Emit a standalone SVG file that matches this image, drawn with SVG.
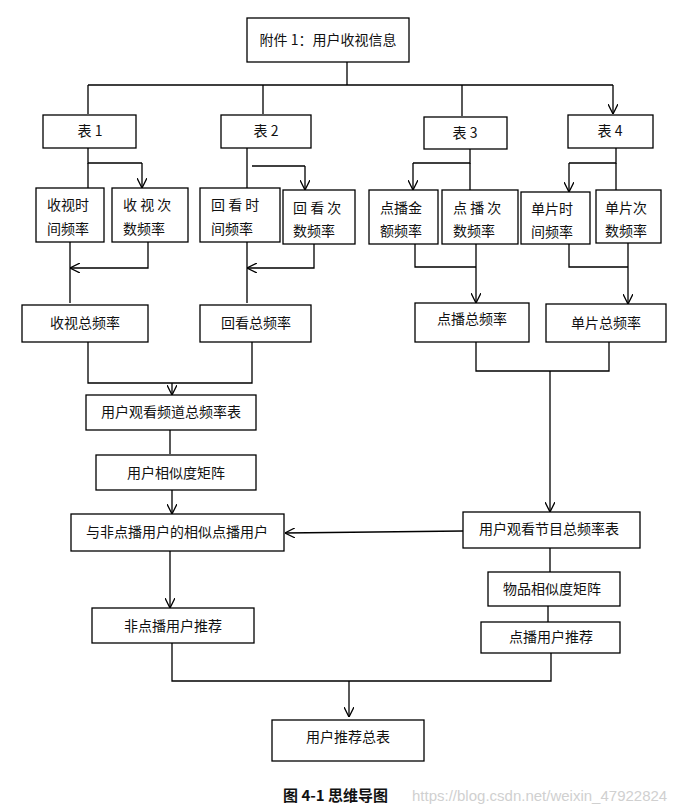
<svg xmlns="http://www.w3.org/2000/svg" width="690" height="807" viewBox="0 0 690 807">
<defs>
<marker id="a" viewBox="0 0 10 10" refX="10" refY="5" markerWidth="10" markerHeight="10" markerUnits="userSpaceOnUse" orient="auto"><path d="M0,0 L10,5 L0,10" fill="none" stroke="#000" stroke-width="1.3"/></marker>
<style>
rect{fill:#fff;stroke:#000;stroke-width:1.3}
text{font-family:"Noto Sans CJK SC","Liberation Sans",sans-serif;font-size:14px;fill:#111}
.c{text-anchor:middle}
.l{fill:none;stroke:#000;stroke-width:1.3}
.ar{fill:none;stroke:#000;stroke-width:1.3;marker-end:url(#a)}
</style>
</defs>
<rect x="0" y="0" width="690" height="807" style="fill:#fff;stroke:none"/>
<g id="connectors">
<path class="l" d="M347,62V85M88,85H613"/>
<path class="ar" d="M88,85V114M263,85V114M462,85V116M613,85V114"/>
<path class="l" d="M88,148V163H142"/><path class="ar" d="M88,163V188M142,163V188"/>
<path class="l" d="M252,166H305"/><path class="ar" d="M247,148V188M305,166V190"/>
<path class="l" d="M470,149V163H413"/><path class="ar" d="M470,163V190M413,163V190"/>
<path class="l" d="M616,148V163H569"/><path class="ar" d="M616,163V190M569,163V192"/>
<path class="ar" d="M70,242V303M148,242V268H70"/>
<path class="ar" d="M247,242V303M314,244V268H247"/>
<path class="ar" d="M415,244V267H476M476,244V303"/>
<path class="ar" d="M569,244V267H628M628,243V304"/>
<path class="l" d="M88,342V383H252V342"/><path class="ar" d="M172,383V395"/>
<path class="ar" d="M170,430V454M172,490V514"/>
<path class="l" d="M476,342V371H609V342"/><path class="ar" d="M550,371V512"/>
<path class="ar" d="M463,531L285,533"/>
<path class="ar" d="M550,548V572M548,606V622M170,551V608"/>
<path class="l" d="M172,643V681H551V653"/><path class="ar" d="M349,681V717"/>
</g>
<g id="n0"><rect x="247" y="18" width="162" height="44"/><text class="c" x="328" y="45">附件 1：用户收视信息</text></g>
<g id="t1"><rect x="43" y="115" width="93" height="33"/><text class="c" x="90" y="136">表 1</text></g>
<g id="t2"><rect x="221" y="115" width="90" height="33"/><text class="c" x="266" y="136">表 2</text></g>
<g id="t3"><rect x="424" y="117" width="83" height="32"/><text class="c" x="465" y="138">表 3</text></g>
<g id="t4"><rect x="568" y="115" width="85" height="33"/><text class="c" x="610" y="136">表 4</text></g>
<g id="s1"><rect x="36" y="188" width="68" height="54"/><text x="47" y="210">收视时</text><text x="47" y="234">间频率</text></g>
<g id="s2"><rect x="112" y="188" width="76" height="54"/><text x="123" y="210">收 视 次</text><text x="123" y="234">数频率</text></g>
<g id="s3"><rect x="200" y="188" width="80" height="54"/><text x="211" y="210">回 看 时</text><text x="211" y="234">间频率</text></g>
<g id="s4"><rect x="283" y="190" width="72" height="54"/><text x="293" y="213">回 看 次</text><text x="293" y="236">数频率</text></g>
<g id="s5"><rect x="369" y="190" width="69" height="54"/><text x="380" y="213">点播金</text><text x="380" y="236">额频率</text></g>
<g id="s6"><rect x="442" y="190" width="76" height="54"/><text x="453" y="213">点 播 次</text><text x="453" y="236">数频率</text></g>
<g id="s7"><rect x="521" y="192" width="69" height="52"/><text x="531" y="214">单片时</text><text x="531" y="237">间频率</text></g>
<g id="s8"><rect x="596" y="190" width="65" height="53"/><text x="605" y="213">单片次</text><text x="605" y="236">数频率</text></g>
<g id="m1"><rect x="22" y="305" width="126" height="37"/><text class="c" x="85" y="328">收视总频率</text></g>
<g id="m2"><rect x="200" y="305" width="111" height="37"/><text class="c" x="256" y="328">回看总频率</text></g>
<g id="m3"><rect x="415" y="303" width="114" height="39"/><text class="c" x="472" y="324">点播总频率</text></g>
<g id="m4"><rect x="546" y="304" width="120" height="38"/><text class="c" x="606" y="328">单片总频率</text></g>
<g id="p1"><rect x="86" y="395" width="170" height="35"/><text class="c" x="171" y="417">用户观看频道总频率表</text></g>
<g id="p2"><rect x="96" y="455" width="160" height="35"/><text class="c" x="176" y="478">用户相似度矩阵</text></g>
<g id="p3"><rect x="71" y="514" width="213" height="37"/><text class="c" x="177" y="537">与非点播用户的相似点播用户</text></g>
<g id="p4"><rect x="92" y="608" width="162" height="35"/><text class="c" x="173" y="631">非点播用户推荐</text></g>
<g id="q1"><rect x="463" y="512" width="177" height="36"/><text class="c" x="549" y="534">用户观看节目总频率表</text></g>
<g id="q2"><rect x="488" y="572" width="132" height="34"/><text class="c" x="552" y="594">物品相似度矩阵</text></g>
<g id="q3"><rect x="481" y="622" width="139" height="31"/><text class="c" x="551" y="642">点播用户推荐</text></g>
<g id="r"><rect x="272" y="720" width="152" height="41"/><text class="c" x="348" y="742">用户推荐总表</text></g>
<text x="283" y="801" style="font-weight:bold;font-size:15px">图 4-1  思维导图</text>
<text x="412" y="801" style="fill:#d0d0d0;font-size:15px;font-family:'Liberation Sans',sans-serif">https://blog.csdn.net/weixin_47922824</text>
</svg>
